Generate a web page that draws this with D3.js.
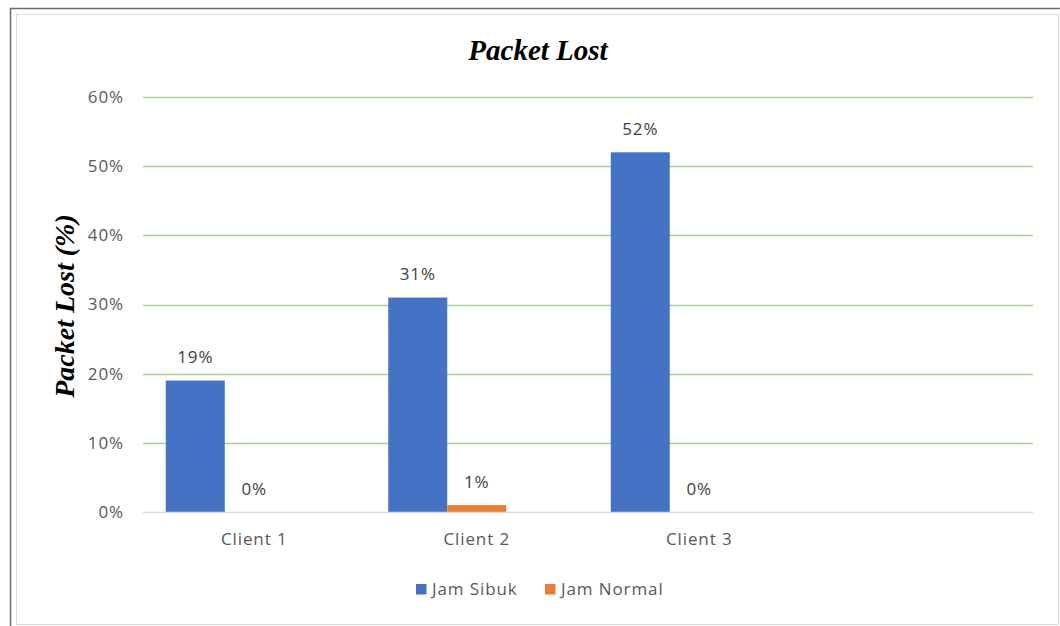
<!DOCTYPE html>
<html>
<head>
<meta charset="utf-8">
<script src="https://cdn.jsdelivr.net/npm/d3@7"></script>
<style>
  html, body { margin: 0; padding: 0; background: #fff; }
  svg { display: block; }
</style>
</head>
<body>
<div id="chart"></div>
<script>
"use strict";

// categories (the last slot is empty in the original workbook)
var categories = ["Client 1", "Client 2", "Client 3", ""];
// series shown in legend, plus one empty slot the source chart reserved
var seriesNames = ["Jam Sibuk", "Jam Normal", ""];
var jamSibuk = [0.19, 0.31, 0.52, null];
var jamNormal = [0.00, 0.01, 0.00, null];
var yTicks = [0, 0.1, 0.2, 0.3, 0.4, 0.5, 0.6];

var colors = { "Jam Sibuk": "#4472c4", "Jam Normal": "#ed7d31" };

var W = 1060, H = 626;
var plot = { left: 143, right: 1033, top: 97, bottom: 512 };
var tickFont = "'Open Sans', 'Noto Sans', sans-serif";
var serif = "'Liberation Serif', 'Times New Roman', serif";

var svg = d3.select("#chart").append("svg")
  .attr("width", W)
  .attr("height", H);

// frame: dark outer line on top/left, light inner border
svg.append("rect")
  .attr("x", 16.5).attr("y", 14.5)
  .attr("width", 1042).attr("height", 610)
  .attr("fill", "#fff")
  .attr("stroke", "#d9d9d9").attr("stroke-width", 1);
svg.append("path")
  .attr("d", "M10.5,626 V8.5 H1060")
  .attr("fill", "none")
  .attr("stroke", "#6b6b6b").attr("stroke-width", 1.5);

var x0 = d3.scaleBand()
  .domain(d3.range(categories.length))
  .range([plot.left, plot.right])
  .paddingInner(0.2045)
  .paddingOuter(0.1023);

var x1 = d3.scaleBand()
  .domain(seriesNames)
  .range([0, x0.bandwidth()])
  .padding(0);

var y = d3.scaleLinear()
  .domain([0, 0.6])
  .range([plot.bottom, plot.top]);

// gridlines
svg.append("g")
  .selectAll("line")
  .data(yTicks.slice(1))
  .join("line")
  .attr("x1", plot.left).attr("x2", plot.right)
  .attr("y1", function (d) { return Math.round(y(d)) + 0.5; })
  .attr("y2", function (d) { return Math.round(y(d)) + 0.5; })
  .attr("stroke", "#a9d18e").attr("stroke-width", 1.5);

// y axis labels
var yAxis = d3.axisLeft(y)
  .tickValues(yTicks)
  .tickFormat(d3.format(".0%"))
  .tickSize(0)
  .tickPadding(19);
var yg = svg.append("g")
  .attr("transform", "translate(" + plot.left + ",0)")
  .call(yAxis);
yg.select(".domain").remove();
yg.selectAll("text")
  .attr("fill", "#595959")
  .style("font-family", tickFont)
  .style("font-size", "17px")
  .style("letter-spacing", "0.9px");

// bars
var rows = categories.map(function (c, i) {
  return { i: i, values: [
    { key: "Jam Sibuk", value: jamSibuk[i] },
    { key: "Jam Normal", value: jamNormal[i] }
  ] };
});

var groups = svg.append("g")
  .selectAll("g")
  .data(rows)
  .join("g")
  .attr("transform", function (d) { return "translate(" + x0(d.i) + ",0)"; });

groups.selectAll("rect")
  .data(function (d) { return d.values.filter(function (v) { return v.value != null; }); })
  .join("rect")
  .attr("x", function (d) { return x1(d.key); })
  .attr("width", x1.bandwidth())
  .attr("y", function (d) { return y(d.value); })
  .attr("height", function (d) { return y(0) - y(d.value); })
  .attr("fill", function (d) { return colors[d.key]; });

groups.selectAll("text")
  .data(function (d) { return d.values.filter(function (v) { return v.value != null; }); })
  .join("text")
  .attr("x", function (d) { return x1(d.key) + x1.bandwidth() / 2; })
  .attr("y", function (d) { return y(d.value) - 17.5; })
  .attr("text-anchor", "middle")
  .attr("fill", "#404040")
  .style("font-family", tickFont)
  .style("font-size", "17px")
  .style("letter-spacing", "0.9px")
  .text(function (d) { return d3.format(".0%")(d.value); });

// x axis line
svg.append("line")
  .attr("x1", plot.left).attr("x2", plot.right)
  .attr("y1", plot.bottom + 0.5).attr("y2", plot.bottom + 0.5)
  .attr("stroke", "#d9d9d9").attr("stroke-width", 1.5);

// x axis labels
var xAxis = d3.axisBottom(x0)
  .tickFormat(function (i) { return categories[i]; })
  .tickSize(0)
  .tickPadding(21);
var xg = svg.append("g")
  .attr("transform", "translate(0," + plot.bottom + ")")
  .call(xAxis);
xg.select(".domain").remove();
xg.selectAll("text")
  .attr("fill", "#595959")
  .style("font-family", tickFont)
  .style("font-size", "17px")
  .style("letter-spacing", "0.9px");

// title
svg.append("text")
  .attr("x", 538).attr("y", 60)
  .attr("text-anchor", "middle")
  .style("font-family", serif)
  .style("font-weight", "bold")
  .style("font-style", "italic")
  .style("font-size", "29px")
  .attr("fill", "#000")
  .text("Packet Lost");

// y axis title
svg.append("text")
  .attr("transform", "translate(74,306) rotate(-90)")
  .attr("text-anchor", "middle")
  .style("font-family", serif)
  .style("font-weight", "bold")
  .style("font-style", "italic")
  .style("font-size", "28px")
  .attr("fill", "#000")
  .text("Packet Lost (%)");

// legend
var legendItems = seriesNames.filter(function (s) { return s !== ""; });
var legendX = [416, 545];
var legend = svg.append("g");
var li = legend.selectAll("g")
  .data(legendItems)
  .join("g")
  .attr("transform", function (d, i) { return "translate(" + legendX[i] + ",584)"; });
li.append("rect")
  .attr("width", 10.5).attr("height", 10.5)
  .attr("fill", function (d) { return colors[d]; });
li.append("text")
  .attr("x", 16).attr("y", 10.5)
  .attr("fill", "#595959")
  .style("font-family", tickFont)
  .style("font-size", "17px")
  .style("letter-spacing", "0.9px")
  .text(function (d) { return d; });
</script>
</body>
</html>
